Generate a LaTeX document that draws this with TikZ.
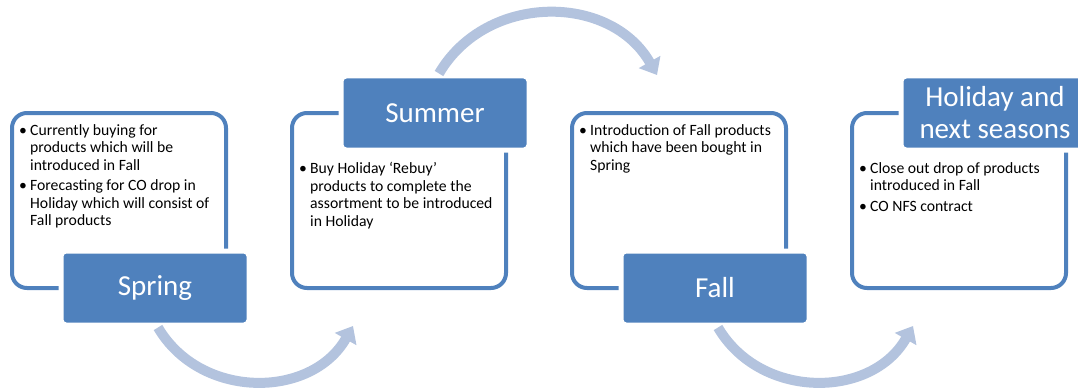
\documentclass[tikz,border=0pt]{standalone}
\usepackage{fontspec}
\setmainfont{Carlito}
\usetikzlibrary{positioning, arrows.meta}

\definecolor{seasonblue}{HTML}{4F81BD}
\definecolor{arrowblue}{HTML}{B3C3DE}

\newcommand{\noteitem}{\makebox[11pt][l]{\textbullet}}
\newcommand{\notecont}{\hspace*{11pt}}

\tikzset{
  seasonbox/.style={
    rectangle,
    draw=seasonblue,
    line width=4pt,
    rounded corners=15pt,
    outer sep=0pt,
    minimum width=214pt,
    minimum height=175pt},
  seasonhead/.style={
    rectangle,
    fill=seasonblue,
    draw=white,
    line width=5pt,
    rounded corners=5pt,
    minimum width=188pt,
    minimum height=74pt,
    text=white,
    align=center,
    font=\fontsize{29}{32}\selectfont},
  seasonnotes/.style={
    anchor=north west,
    inner sep=0pt,
    align=left,
    font=\fontsize{15.7}{17.5}\selectfont},
  seasonarrow/.style={
    arrowblue,
    line width=10pt,
    -{Triangle[width=24pt,length=15pt]}}
}

\begin{document}
\begin{tikzpicture}[x=1pt, y=1pt]
  \useasboundingbox (0,0) rectangle (1078,389);

  \node[seasonbox] (spbox) at (119,188.5) {};
  \node[seasonbox, right=66pt of spbox] (subox) {};
  \node[seasonbox, right=66pt of subox] (fabox) {};
  \node[seasonbox, right=66pt of fabox] (hobox) {};

  \node[seasonnotes] (spnotes) at ([xshift=7pt, yshift=-11pt]spbox.north west)
  {\noteitem Currently buying for\\
    \notecont products which will be\\
    \notecont introduced in Fall\\[3pt]
    \noteitem Forecasting for CO drop in\\
    \notecont Holiday which will consist of\\
    \notecont Fall products};

  \node[seasonnotes] (sunotes) at ([xshift=7pt, yshift=-49pt]subox.north west)
  {\noteitem Buy Holiday `Rebuy'\\
    \notecont products to complete the\\
    \notecont assortment to be introduced\\
    \notecont in Holiday};

  \node[seasonnotes] (fanotes) at ([xshift=7pt, yshift=-11pt]fabox.north west)
  {\noteitem Introduction of Fall products\\
    \notecont which have been bought in\\
    \notecont Spring};

  \node[seasonnotes] (honotes) at ([xshift=7pt, yshift=-49pt]hobox.north west)
  {\noteitem Close out drop of products\\
    \notecont introduced in Fall\\[3pt]
    \noteitem CO NFS contract};

  \node[seasonhead] (sphead) at ([xshift=36pt]spbox.south) {Spring};
  \node[seasonhead] (suhead) at ([xshift=36pt]subox.north) {Summer};
  \node[seasonhead] (fahead) at ([xshift=36pt]fabox.south) {Fall};
  \node[seasonhead] (hohead) at ([xshift=36pt]hobox.north) {Holiday and\\next seasons};

  \coordinate (spout) at ([xshift=3pt]sphead.south);
  \coordinate (suin) at ([xshift=61pt, yshift=-38pt]subox.south west);
  \coordinate (suout) at ([xshift=4pt]suhead.north);
  \coordinate (fain) at ([xshift=85pt, yshift=38pt]fabox.north west);
  \coordinate (faout) at ([xshift=3pt]fahead.south);
  \coordinate (hoin) at ([xshift=61pt, yshift=-38pt]hobox.south west);

  \draw[seasonarrow] (spout) to[bend right=60, looseness=1.1] (suin);
  \draw[seasonarrow] (suout) to[bend left=60, looseness=1.1] (fain);
  \draw[seasonarrow] (faout) to[bend right=60, looseness=1.1] (hoin);
\end{tikzpicture}
\end{document}
